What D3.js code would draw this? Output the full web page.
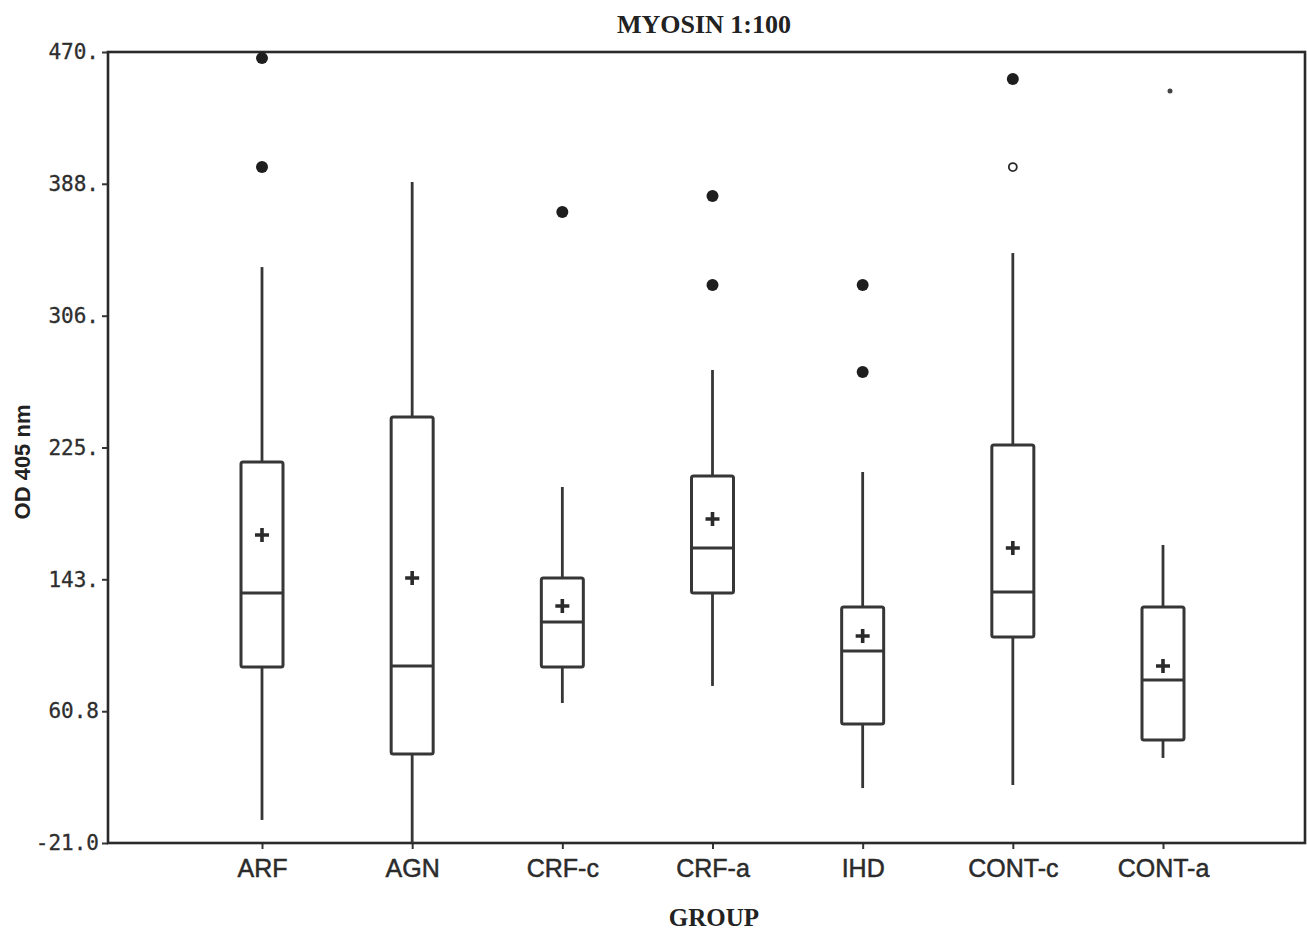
<!DOCTYPE html>
<html>
<head>
<meta charset="utf-8">
<script src="https://cdn.jsdelivr.net/npm/d3@7"></script>
<style>
  body { margin: 0; background: #fff; }
  svg { display: block; }
  .ytick text { font-family: 'DejaVu Sans Mono', monospace; font-size: 21px; fill: #2e2e2e; stroke: #2e2e2e; stroke-width: 0.3px; }
  .xtick text { font-family: 'Liberation Sans', Arial, sans-serif; font-size: 25px; fill: #2b2b2b; stroke: #2b2b2b; stroke-width: 0.5px; }
</style>
</head>
<body>
<div id="chart"></div>
<script>
// values
var groups      = ['ARF', 'AGN', 'CRF-c', 'CRF-a', 'IHD', 'CONT-c', 'CONT-a'];
var whiskerLow  = [-6.7, -21.0, 65.9, 76.5, 13.1, 15.0, 31.8];
var q1          = [88.2, 34.2, 88.2, 134.2, 52.9, 106.9, 42.9];
var medians     = [134.2, 88.9, 116.2, 162.1, 98.2, 134.8, 80.2];
var q3          = [215.5, 243.4, 143.5, 206.8, 125.5, 226.0, 125.5];
var whiskerHigh = [336.5, 389.3, 200.0, 272.6, 209.3, 345.2, 164.0];
var means       = [170.2, 143.5, 126.1, 180.1, 107.5, 162.1, 88.9];
var farOutliers  = [[466.2, 398.6], [], [370.7], [380.6, 325.4], [325.4, 271.4], [453.2], []];
var nearOutliers = [[], [], [], [], [], [398.6], []];
var strayPoints  = [[], [], [], [], [], [], [445.8]];
var yTicks  = [-21.0, 60.8, 142.7, 224.5, 306.3, 388.2, 470];
var yLabels = ['-21.0', '60.8', '143.', '225.', '306.', '388.', '470.'];

var W = 1307, H = 930;
var margin = {top: 52, right: 2, bottom: 87, left: 108};
var width = W - margin.left - margin.right;
var height = H - margin.top - margin.bottom;
var ink = '#363636';

var svg = d3.select('#chart').append('svg')
    .attr('width', W)
    .attr('height', H);

var g = svg.append('g')
    .attr('transform', 'translate(' + margin.left + ',' + margin.top + ')');

var y = d3.scaleLinear()
    .domain([-21, 470])
    .range([height, 0]);

var x = d3.scalePoint()
    .domain(groups)
    .range([154, 1055]);

var boxW = 42;

// axes
var yAxis = d3.axisLeft(y)
    .tickValues(yTicks)
    .tickSize(6)
    .tickPadding(3)
    .tickFormat(function(d, i) { return yLabels[i]; });

g.append('g')
    .attr('class', 'ytick')
    .call(yAxis)
    .call(function(s) {
        s.select('.domain').remove();
        s.selectAll('line').attr('stroke', ink).attr('stroke-width', 2);
    });

var xAxis = d3.axisBottom(x)
    .tickSize(6)
    .tickPadding(10);

g.append('g')
    .attr('class', 'xtick')
    .attr('transform', 'translate(0,' + height + ')')
    .call(xAxis)
    .call(function(s) {
        s.select('.domain').remove();
        s.selectAll('line').attr('stroke', ink).attr('stroke-width', 2);
    });

// frame
g.append('rect')
    .attr('x', 0)
    .attr('y', 0)
    .attr('width', width)
    .attr('height', height)
    .attr('fill', 'none')
    .attr('stroke', '#2a2a2a')
    .attr('stroke-width', 2.6);

var data = groups.map(function(name, i) {
    return {
        name: name,
        lo: whiskerLow[i],
        q1: q1[i],
        med: medians[i],
        q3: q3[i],
        hi: whiskerHigh[i],
        mean: means[i],
        far: farOutliers[i],
        near: nearOutliers[i],
        stray: strayPoints[i]
    };
});

var box = g.selectAll('.box')
    .data(data)
    .enter()
    .append('g')
    .attr('class', 'box')
    .attr('transform', function(d) { return 'translate(' + x(d.name) + ',0)'; });

// whiskers
box.append('line')
    .attr('x1', 0).attr('x2', 0)
    .attr('y1', function(d) { return y(d.hi); })
    .attr('y2', function(d) { return y(d.q3); })
    .attr('stroke', ink).attr('stroke-width', 2.8);

box.append('line')
    .attr('x1', 0).attr('x2', 0)
    .attr('y1', function(d) { return y(d.q1); })
    .attr('y2', function(d) { return y(d.lo); })
    .attr('stroke', ink).attr('stroke-width', 2.8);

box.append('rect')
    .attr('x', -boxW / 2)
    .attr('width', boxW)
    .attr('y', function(d) { return y(d.q3); })
    .attr('height', function(d) { return y(d.q1) - y(d.q3); })
    .attr('rx', 2)
    .attr('fill', 'none')
    .attr('stroke', ink)
    .attr('stroke-width', 3);

box.append('line')
    .attr('x1', -boxW / 2).attr('x2', boxW / 2)
    .attr('y1', function(d) { return y(d.med); })
    .attr('y2', function(d) { return y(d.med); })
    .attr('stroke', ink).attr('stroke-width', 3);

// mean marker
box.append('path')
    .attr('d', function(d) {
        var m = y(d.mean);
        return 'M-7,' + m + 'H7M0,' + (m - 7) + 'V' + (m + 7);
    })
    .attr('stroke', '#2a2a2a')
    .attr('stroke-width', 3.6);

box.selectAll('.far')
    .data(function(d) { return d.far; })
    .enter()
    .append('circle')
    .attr('class', 'far')
    .attr('cx', 0)
    .attr('cy', function(v) { return y(v); })
    .attr('r', 6)
    .attr('fill', '#1e1e1e');

box.selectAll('.near')
    .data(function(d) { return d.near; })
    .enter()
    .append('circle')
    .attr('class', 'near')
    .attr('cx', 0)
    .attr('cy', function(v) { return y(v); })
    .attr('r', 4)
    .attr('fill', 'none')
    .attr('stroke', '#2a2a2a')
    .attr('stroke-width', 1.8);

box.selectAll('.stray')
    .data(function(d) { return d.stray; })
    .enter()
    .append('circle')
    .attr('class', 'stray')
    .attr('cx', 7)
    .attr('cy', function(v) { return y(v); })
    .attr('r', 2.5)
    .attr('fill', '#444');

// titles
svg.append('text')
    .attr('x', 704)
    .attr('y', 33)
    .attr('text-anchor', 'middle')
    .style('font-family', "'Liberation Serif', 'Times New Roman', serif")
    .style('font-weight', 'bold')
    .style('font-size', '26px')
    .style('fill', '#222')
    .text('MYOSIN 1:100');

svg.append('text')
    .attr('x', 714)
    .attr('y', 926)
    .attr('text-anchor', 'middle')
    .style('font-family', "'Liberation Serif', 'Times New Roman', serif")
    .style('font-weight', 'bold')
    .style('font-size', '25px')
    .style('fill', '#222')
    .text('GROUP');

svg.append('text')
    .attr('transform', 'translate(30,462) rotate(-90)')
    .attr('text-anchor', 'middle')
    .style('font-family', "'Liberation Sans', Arial, sans-serif")
    .style('font-weight', 'bold')
    .style('font-size', '22px')
    .style('fill', '#222')
    .text('OD 405 nm');
</script>
</body>
</html>
